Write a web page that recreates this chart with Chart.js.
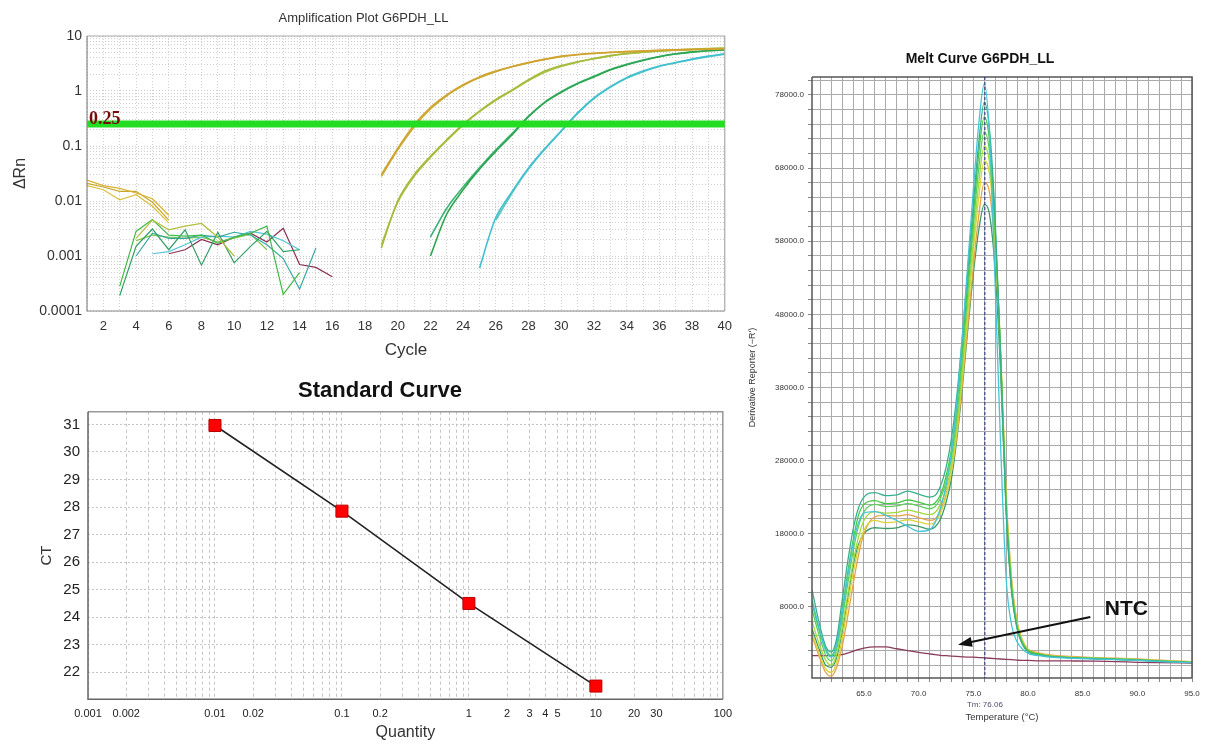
<!DOCTYPE html>
<html>
<head>
<meta charset="utf-8">
<title>G6PDH_LL qPCR</title>
<script src="https://cdn.jsdelivr.net/npm/chart.js@4.4.1/dist/chart.umd.min.js"></script>
<style>
  html, body { margin: 0; padding: 0; background: #fff; }
  #wrap { position: relative; width: 1208px; height: 747px; overflow: hidden; }
  canvas { position: absolute; }
  #ampChart { left: 0; top: 0; }
  #stdChart { left: 0; top: 370px; }
  #meltChart { left: 745px; top: 30px; }
</style>
</head>
<body>
<div id="wrap">
  <canvas id="ampChart" width="740" height="370"></canvas>
  <canvas id="stdChart" width="740" height="377"></canvas>
  <canvas id="meltChart" width="463" height="717"></canvas>
</div>
<script>
const FONT = "'Liberation Sans', Arial, sans-serif";

// ---------- Amplification plot data ----------
const earlyCycles = [1, 2, 3, 4, 5, 6, 7, 8, 9, 10, 11, 12, 13, 14, 15, 16];
const lateCycles = [19, 20, 21, 22, 23, 24, 25, 26, 27, 28, 29, 30, 31, 32, 33, 34, 35, 36, 37, 38, 39, 40];
const threshold = 0.25;
const deltaRnLabels = [0.0001, 0.001, 0.01, 0.1, 1, 10];

const goldEarly1 = [0.024, 0.019, 0.017, 0.014, 0.011, 0.0055, null, null, null, null, null, null, null, null, null, null];
const goldEarly2 = [0.021, 0.018, 0.015, 0.015, 0.0095, 0.0045, null, null, null, null, null, null, null, null, null, null];
const goldEarly3 = [0.019, 0.016, 0.0105, 0.013, 0.008, 0.004, null, null, null, null, null, null, null, null, null, null];
const oliveEarly = [null, null, null, 0.0021, 0.0045, 0.0030, 0.0035, 0.0039, 0.0022, 0.0010, null, null, null, null, null, null];
const greenNoise1 = [null, null, 0.00028, 0.0028, 0.0046, 0.0024, 0.0023, 0.0024, 0.0017, 0.0022, 0.0026, 0.0035, 0.0002, 0.0005, null, null];
const greenNoise2 = [null, null, 0.00019, 0.0015, 0.0031, 0.0013, 0.0030, 0.00068, 0.0027, 0.00075, 0.0015, 0.0028, 0.0012, 0.0013, null, null];
const tealNoise = [null, null, null, 0.0010, 0.0026, 0.0021, 0.0021, 0.0024, 0.0022, 0.0027, 0.0024, 0.0016, 0.0009, 0.00025, 0.0014, null];
const cyanNoise = [null, null, null, null, 0.0011, 0.0012, 0.0016, 0.0022, 0.0023, 0.0022, 0.0028, 0.0025, 0.0019, 0.0013, null, null];
const limeNoise = [null, null, null, 0.0019, 0.0024, 0.0022, 0.0021, 0.0022, 0.0018, 0.0021, 0.0025, 0.0013, null, null, null, null];
const ntcAmp = [null, null, null, null, null, 0.0011, 0.0013, 0.0020, 0.0016, 0.0022, 0.0026, 0.0018, 0.0032, 0.0007, 0.00062, 0.00042];

const std10a = [0.030, 0.090, 0.24, 0.50, 0.85, 1.3, 1.8, 2.3, 2.8, 3.3, 3.8, 4.3, 4.6, 4.85, 5.05, 5.2, 5.35, 5.5, 5.6, 5.7, 5.8, 5.9];
const std10b = [0.028, 0.085, 0.22, 0.47, 0.82, 1.25, 1.75, 2.25, 2.75, 3.25, 3.75, 4.2, 4.55, 4.8, 5.0, 5.2, 5.3, 5.45, 5.55, 5.65, 5.75, 5.85];
const std1a = [0.0014, 0.010, 0.030, 0.065, 0.13, 0.25, 0.43, 0.70, 1.05, 1.6, 2.3, 2.9, 3.4, 3.9, 4.4, 4.8, 5.1, 5.35, 5.55, 5.75, 5.9, 6.0];
const std1b = [0.0016, 0.0095, 0.028, 0.062, 0.125, 0.24, 0.42, 0.68, 1.02, 1.55, 2.2, 2.8, 3.35, 3.85, 4.35, 4.75, 5.05, 5.3, 5.5, 5.7, 5.85, 5.95];
const std01a = [null, null, null, 0.0010, 0.0058, 0.016, 0.038, 0.080, 0.16, 0.34, 0.62, 0.95, 1.35, 1.8, 2.4, 3.0, 3.6, 4.2, 4.7, 5.1, 5.4, 5.6];
const std01b = [null, null, null, 0.0022, 0.0074, 0.018, 0.040, 0.085, 0.17, 0.35, 0.63, 0.97, 1.38, 1.85, 2.45, 3.05, 3.65, 4.25, 4.75, 5.15, 5.45, 5.65];
const std001a = [null, null, null, null, null, null, 0.0006, 0.0050, 0.015, 0.040, 0.090, 0.19, 0.40, 0.75, 1.2, 1.75, 2.3, 2.85, 3.3, 3.8, 4.3, 4.75];
const std001b = [null, null, null, null, null, null, null, 0.0045, 0.014, 0.038, 0.087, 0.185, 0.39, 0.73, 1.17, 1.7, 2.25, 2.8, 3.25, 3.75, 4.2, 4.65];

// ---------- Standard curve data ----------
const quantities = [0.01, 0.1, 1, 10];
const ctValues = [30.96, 27.85, 24.5, 21.5];
const quantityLabels = [0.001, 0.002, 0.01, 0.02, 0.1, 0.2, 1, 2, 3, 4, 5, 10, 20, 30, 100];

// ---------- Melt curve data ----------
const temps = [60.25, 61, 61.5, 62, 62.5, 63, 63.5, 64, 64.5, 65, 66, 67, 68, 69, 70, 71, 71.5, 72, 72.5, 73, 73.5, 74, 74.5, 75, 75.5, 76, 76.5, 77, 77.5, 78, 78.5, 79, 79.5, 80, 81, 82, 84, 86, 88, 90, 92, 95];
const meltTeal = [10300, 5200, 2600, 1800, 3600, 8800, 14000, 18500, 21500, 23000, 23600, 23200, 23300, 23800, 23400, 23000, 23200, 24500, 27000, 31000, 37000, 45000, 54000, 63000, 71500, 77000, 73000, 61000, 42000, 21000, 10000, 5000, 2800, 1800, 1400, 1200, 1000, 900, 800, 700, 550, 350];
const meltCyan = [9000, 4500, 2000, 1100, 2800, 7000, 12000, 16500, 19500, 20800, 21000, 20500, 19800, 19000, 18300, 18500, 19500, 21500, 24500, 29000, 36000, 45000, 55000, 65000, 74000, 79500, 72000, 52000, 30000, 12000, 5500, 3200, 2200, 1600, 1300, 1100, 950, 850, 750, 650, 500, 350];
const meltGreen = [8500, 4300, 2200, 1300, 3000, 7500, 12500, 17000, 20500, 22000, 22500, 22100, 22200, 22600, 22300, 21900, 22200, 23300, 25800, 29500, 35500, 43500, 52500, 61500, 70000, 75000, 71500, 60000, 42000, 21500, 10500, 5200, 3000, 2000, 1500, 1200, 1050, 900, 800, 700, 550, 350];
const meltGreen2 = [7600, 3600, 1400, 600, 2200, 6200, 11000, 15500, 19000, 21000, 22000, 21700, 21800, 22100, 21800, 21400, 21700, 22800, 25000, 28500, 34000, 42000, 51000, 60000, 68000, 73000, 70000, 59500, 42500, 22000, 10800, 5300, 3000, 2000, 1500, 1250, 1050, 950, 850, 750, 600, 400];
const meltLime = [6000, 2500, 700, 0, 1500, 5000, 9500, 14000, 17500, 19800, 21000, 20800, 20900, 21200, 20900, 20600, 20900, 22000, 24000, 27500, 33000, 40500, 49500, 58000, 66000, 71000, 68500, 58500, 42500, 22500, 11000, 5500, 3100, 2000, 1500, 1250, 1050, 950, 850, 750, 600, 400];
const meltYellow = [4400, 1200, -500, -1000, 300, 3500, 8000, 12500, 16000, 18500, 19800, 19500, 19600, 19900, 19600, 19300, 19600, 20800, 23000, 26500, 32000, 39500, 48000, 56500, 64000, 69000, 67000, 58000, 43000, 23000, 11500, 5800, 3300, 2100, 1600, 1300, 1100, 1000, 900, 800, 650, 450];
const meltOrange = [4000, 800, -1000, -1500, -300, 2500, 6500, 11000, 15000, 18000, 20300, 20500, 20400, 20600, 20200, 19800, 20000, 21200, 23300, 26500, 31500, 38500, 46500, 54500, 61500, 66000, 64500, 56500, 42500, 23500, 12000, 6000, 3400, 2200, 1700, 1400, 1200, 1050, 950, 850, 700, 500];
const meltSea = [5000, 1800, 0, -300, 1000, 4500, 9000, 13500, 16500, 18000, 18800, 18700, 18800, 19200, 19000, 18600, 18900, 20000, 22200, 25500, 31000, 38000, 46000, 53500, 59500, 63000, 61500, 54000, 40000, 21500, 10500, 5200, 3000, 2000, 1500, 1200, 1050, 900, 800, 700, 550, 400];
const meltNtc = [1300, 1300, 1300, 1300, 1350, 1450, 1650, 1900, 2150, 2350, 2500, 2500, 2250, 2000, 1750, 1550, 1450, 1350, 1300, 1250, 1200, 1150, 1100, 1100, 1050, 1000, 950, 900, 850, 800, 750, 700, 650, 650, 600, 600, 580, 550, 500, 400, 350, 300];
const tmValue = 76.06;
const ntcArrowFrom = [85.7, 6600];
const ntcArrowTo = [73.6, 2800];
const ntcLabelAt = [89, 7600];

// ---------- helpers ----------
function points(xs, ys) {
  const out = [];
  xs.forEach((x, i) => { if (ys[i] !== null && ys[i] !== undefined) out.push({ x: x, y: ys[i] }); });
  return out;
}

function logGrid(minExp, maxExp) {
  const vals = [];
  for (let e = minExp; e < maxExp; e++) {
    for (let m = 1; m < 10; m++) vals.push(+(m * Math.pow(10, e)).toPrecision(3));
  }
  vals.push(Math.pow(10, maxExp));
  return vals;
}

function stepGrid(from, to, step) {
  const vals = [];
  for (let v = from; v <= to; v += step) vals.push(v);
  return vals;
}

function line(xs, ys, color, width, tension) {
  return {
    data: points(xs, ys),
    borderColor: color,
    borderWidth: width,
    pointRadius: 0,
    tension: tension,
    fill: false
  };
}

// frame drawn round the plot area
const framePlugin = {
  id: 'frame',
  afterDatasetsDraw(chart, args, opts) {
    const a = chart.chartArea;
    const ctx = chart.ctx;
    ctx.save();
    ctx.lineWidth = opts.width || 1;
    ctx.strokeStyle = opts.light || '#999';
    ctx.beginPath();
    ctx.moveTo(a.left, a.top); ctx.lineTo(a.right, a.top); ctx.lineTo(a.right, a.bottom);
    ctx.stroke();
    ctx.strokeStyle = opts.dark || '#666';
    ctx.beginPath();
    ctx.moveTo(a.left, a.top); ctx.lineTo(a.left, a.bottom); ctx.lineTo(a.right, a.bottom);
    ctx.stroke();
    ctx.restore();
  }
};

// ---------- Amplification plot ----------
const thresholdPlugin = {
  id: 'threshold',
  afterDatasetsDraw(chart) {
    const { ctx, chartArea: a, scales: { y } } = chart;
    const py = y.getPixelForValue(threshold);
    ctx.save();
    ctx.strokeStyle = '#22dd22';
    ctx.lineWidth = 7;
    ctx.beginPath();
    ctx.moveTo(a.left, py);
    ctx.lineTo(a.right, py);
    ctx.stroke();
    ctx.fillStyle = '#7a0a0a';
    ctx.font = "bold 18px 'Liberation Serif', 'DejaVu Serif', serif";
    ctx.textBaseline = 'alphabetic';
    ctx.fillText(String(threshold), a.left + 2, py - 0.5);
    ctx.restore();
  }
};

const ampTicks = logGrid(-4, 1);

new Chart(document.getElementById('ampChart'), {
  type: 'line',
  data: {
    datasets: [
      line(earlyCycles, goldEarly1, '#d8b030', 1.2, 0),
      line(earlyCycles, goldEarly2, '#c9a52c', 1.2, 0),
      line(earlyCycles, goldEarly3, '#dcc040', 1.2, 0),
      line(earlyCycles, oliveEarly, '#b4bc3c', 1.2, 0),
      line(earlyCycles, greenNoise1, '#44b848', 1.2, 0),
      line(earlyCycles, greenNoise2, '#2f9e62', 1.2, 0),
      line(earlyCycles, tealNoise, '#36aaa0', 1.2, 0),
      line(earlyCycles, cyanNoise, '#52c6d8', 1.2, 0),
      line(earlyCycles, limeNoise, '#80c84a', 1.2, 0),
      line(earlyCycles, ntcAmp, '#8a2f52', 1.2, 0),
      line(lateCycles, std10a, '#d2a22c', 1.6, 0.3),
      line(lateCycles, std10b, '#c8b040', 1.6, 0.3),
      line(lateCycles, std1a, '#a2bc3c', 1.6, 0.3),
      line(lateCycles, std1b, '#b0c048', 1.6, 0.3),
      line(lateCycles, std01a, '#2ea650', 1.6, 0.3),
      line(lateCycles, std01b, '#3cb478', 1.6, 0.3),
      line(lateCycles, std001a, '#40c0d2', 1.6, 0.3),
      line(lateCycles, std001b, '#5cc8c0', 1.6, 0.3)
    ]
  },
  options: {
    responsive: false,
    animation: false,
    devicePixelRatio: 1,
    layout: { padding: { left: 0, right: 13, top: 0, bottom: 0 } },
    plugins: {
      legend: { display: false },
      tooltip: { enabled: false },
      title: {
        display: true,
        text: 'Amplification Plot G6PDH_LL',
        color: '#333',
        font: { family: FONT, size: 13, weight: 'normal' },
        padding: { top: 11, bottom: 9.4 }
      },
      frame: { dark: '#888', light: '#aaa', width: 1.2 }
    },
    scales: {
      x: {
        type: 'linear',
        min: 1,
        max: 40,
        afterFit(scale) { scale.height = 59; },
        ticks: {
          stepSize: 1,
          autoSkip: false,
          maxRotation: 0,
          padding: 8,
          color: '#333',
          font: { family: FONT, size: 13 },
          callback: (v) => (v % 2 === 0 ? String(v) : '')
        },
        grid: { color: '#cfcfcf', drawTicks: false },
        border: { display: false, dash: [1, 2] },
        title: {
          display: true,
          text: 'Cycle',
          color: '#333',
          font: { family: FONT, size: 17 },
          padding: { top: 0, bottom: 9.8 }
        }
      },
      y: {
        type: 'logarithmic',
        min: 0.0001,
        max: 10,
        afterFit(scale) { scale.width = 87; },
        afterBuildTicks(scale) { scale.ticks = ampTicks.map((v) => ({ value: v })); },
        ticks: {
          autoSkip: false,
          padding: 5,
          color: '#333',
          font: { family: FONT, size: 14 },
          callback: (v) => (deltaRnLabels.indexOf(v) >= 0 ? String(v) : '')
        },
        grid: { color: '#cfcfcf', drawTicks: false },
        border: { display: false, dash: [1, 2] },
        title: {
          display: true,
          text: 'ΔRn',
          color: '#333',
          font: { family: FONT, size: 16 },
          padding: { top: 11, bottom: 0 }
        }
      }
    }
  },
  plugins: [framePlugin, thresholdPlugin]
});

// ---------- Standard curve ----------
const stdTicks = logGrid(-3, 2);

new Chart(document.getElementById('stdChart'), {
  type: 'line',
  data: {
    datasets: [{
      data: points(quantities, ctValues),
      borderColor: '#222',
      borderWidth: 1.6,
      pointStyle: 'rect',
      pointRadius: 8.5,
      pointBackgroundColor: '#ff0000',
      pointBorderColor: '#b80000',
      pointBorderWidth: 1,
      tension: 0,
      fill: false
    }]
  },
  options: {
    responsive: false,
    animation: false,
    devicePixelRatio: 1,
    layout: { padding: { left: 33, right: 13, top: 0, bottom: 0 } },
    plugins: {
      legend: { display: false },
      tooltip: { enabled: false },
      title: {
        display: true,
        text: 'Standard Curve',
        color: '#111',
        font: { family: FONT, size: 22, weight: 'bold' },
        padding: { top: 7.8, bottom: 7.5 }
      },
      frame: { dark: '#666', light: '#999', width: 1.5 }
    },
    scales: {
      x: {
        type: 'logarithmic',
        min: 0.001,
        max: 100,
        afterFit(scale) { scale.height = 47.7; },
        afterBuildTicks(scale) { scale.ticks = stdTicks.map((v) => ({ value: v })); },
        ticks: {
          autoSkip: false,
          maxRotation: 0,
          padding: 8,
          color: '#222',
          font: { family: "'Liberation Sans Narrow', " + FONT, size: 11 },
          callback: (v) => (quantityLabels.indexOf(v) >= 0 ? String(v) : '')
        },
        grid: { color: '#c4c4c4', drawTicks: false },
        border: { display: false, dash: [3, 3] },
        title: {
          display: true,
          text: 'Quantity',
          color: '#333',
          font: { family: FONT, size: 16 },
          padding: { top: 0, bottom: 4.4 }
        }
      },
      y: {
        type: 'linear',
        min: 21.02,
        max: 31.46,
        afterFit(scale) { scale.width = 55; },
        ticks: {
          stepSize: 1,
          includeBounds: false,
          autoSkip: false,
          padding: 8,
          color: '#222',
          font: { family: FONT, size: 15 }
        },
        grid: { color: '#c4c4c4', drawTicks: false },
        border: { display: false, dash: [2, 2] },
        title: {
          display: true,
          text: 'CT',
          color: '#333',
          font: { family: FONT, size: 15 },
          padding: { top: 5, bottom: 0 }
        }
      }
    }
  },
  plugins: [framePlugin]
});

// ---------- Melt curve ----------
const meltXTicks = stepGrid(61, 95, 1);
const meltYTicks = stepGrid(0, 80000, 2000);

const meltMarks = {
  id: 'meltMarks',
  afterDatasetsDraw(chart) {
    const { ctx, chartArea: a, scales: { x, y } } = chart;
    const tx = x.getPixelForValue(tmValue);
    ctx.save();
    ctx.strokeStyle = '#1f2a80';
    ctx.lineWidth = 1;
    ctx.setLineDash([3, 2]);
    ctx.beginPath();
    ctx.moveTo(tx, a.top);
    ctx.lineTo(tx, a.bottom);
    ctx.stroke();
    ctx.setLineDash([]);
    ctx.font = '8px ' + FONT;
    ctx.fillStyle = '#4a4f70';
    ctx.textAlign = 'center';
    ctx.textBaseline = 'middle';
    ctx.fillText('Tm: ' + tmValue.toFixed(2), tx, a.bottom + 27);

    // NTC arrow
    const x0 = x.getPixelForValue(ntcArrowFrom[0]), y0 = y.getPixelForValue(ntcArrowFrom[1]);
    const x1 = x.getPixelForValue(ntcArrowTo[0]), y1 = y.getPixelForValue(ntcArrowTo[1]);
    const ang = Math.atan2(y1 - y0, x1 - x0);
    const head = 14, half = 5;
    ctx.strokeStyle = '#111';
    ctx.lineWidth = 2;
    ctx.beginPath();
    ctx.moveTo(x0, y0);
    ctx.lineTo(x1 - Math.cos(ang) * head * 0.8, y1 - Math.sin(ang) * head * 0.8);
    ctx.stroke();
    ctx.fillStyle = '#111';
    ctx.beginPath();
    ctx.moveTo(x1, y1);
    ctx.lineTo(x1 - head * Math.cos(ang) + half * Math.sin(ang), y1 - head * Math.sin(ang) - half * Math.cos(ang));
    ctx.lineTo(x1 - head * Math.cos(ang) - half * Math.sin(ang), y1 - head * Math.sin(ang) + half * Math.cos(ang));
    ctx.closePath();
    ctx.fill();
    ctx.font = 'bold 21px ' + FONT;
    ctx.fillText('NTC', x.getPixelForValue(ntcLabelAt[0]), y.getPixelForValue(ntcLabelAt[1]));
    ctx.restore();
  }
};

function melt(ys, color) {
  return {
    data: points(temps, ys),
    borderColor: color,
    borderWidth: 1.3,
    pointRadius: 0,
    cubicInterpolationMode: 'monotone',
    fill: false
  };
}

new Chart(document.getElementById('meltChart'), {
  type: 'line',
  data: {
    datasets: [
      melt(meltCyan, '#46c4d8'),
      melt(meltTeal, '#38b08e'),
      melt(meltGreen, '#44c844'),
      melt(meltGreen2, '#5cd05c'),
      melt(meltLime, '#a2da3a'),
      melt(meltYellow, '#dcd43c'),
      melt(meltOrange, '#e6a24a'),
      melt(meltSea, '#3a9a6a'),
      melt(meltNtc, '#8a3a5a')
    ]
  },
  options: {
    responsive: false,
    animation: false,
    devicePixelRatio: 1,
    layout: { padding: { left: 23, right: 16, top: 0, bottom: 0 } },
    plugins: {
      legend: { display: false },
      tooltip: { enabled: false },
      title: {
        display: true,
        text: 'Melt Curve G6PDH_LL',
        color: '#111',
        font: { family: FONT, size: 14, weight: 'bold' },
        padding: { top: 20.6, bottom: 9.6 }
      },
      frame: { dark: '#555', light: '#555', width: 1.5 }
    },
    scales: {
      x: {
        type: 'linear',
        min: 60.25,
        max: 95,
        afterFit(scale) { scale.height = 69; },
        afterBuildTicks(scale) { scale.ticks = meltXTicks.map((v) => ({ value: v })); },
        ticks: {
          autoSkip: false,
          maxRotation: 0,
          padding: 7,
          color: '#333',
          font: { family: FONT, size: 8 },
          callback: (v) => (v % 5 === 0 ? v.toFixed(1) : '')
        },
        grid: { color: '#aaaaaa', tickLength: 4, tickColor: '#888' },
        border: { display: false },
        title: {
          display: true,
          text: 'Temperature (°C)',
          color: '#333',
          font: { family: FONT, size: 9.5 },
          padding: { top: 0, bottom: 24.3 }
        }
      },
      y: {
        type: 'linear',
        min: -1750,
        max: 80460,
        afterFit(scale) { scale.width = 44; },
        afterBuildTicks(scale) { scale.ticks = meltYTicks.map((v) => ({ value: v })); },
        ticks: {
          autoSkip: false,
          padding: 4,
          color: '#333',
          font: { family: FONT, size: 8 },
          callback: (v) => ((v - 8000) % 10000 === 0 ? v.toFixed(1) : '')
        },
        grid: { color: '#aaaaaa', tickLength: 4, tickColor: '#888' },
        border: { display: false },
        title: {
          display: true,
          text: "Derivative Reporter (−R')",
          color: '#333',
          font: { family: FONT, size: 9 },
          padding: { top: -20.4, bottom: 0 }
        }
      }
    }
  },
  plugins: [framePlugin, meltMarks]
});
</script>
</body>
</html>
